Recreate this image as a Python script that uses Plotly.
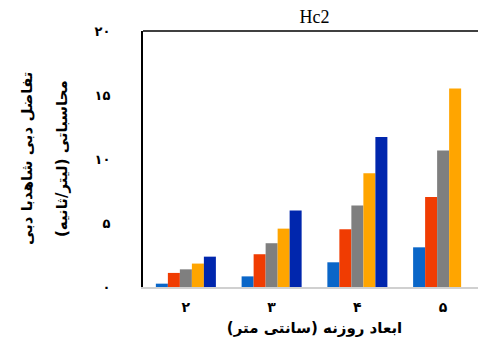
import plotly.graph_objects as go

categories = ["۲", "۳", "۴", "۵"]
series_names = ["s1", "s2", "s3", "s4", "s5"]
s1 = [0.26, 0.83, 1.93, 3.10]
s2 = [1.10, 2.56, 4.51, 7.04]
s3 = [1.38, 3.42, 6.36, 10.67]
s4 = [1.83, 4.56, 8.89, 15.50]
s5 = [2.37, 5.97, 11.71, None]
colors = ["#0A66C8", "#F03C02", "#7F7F7F", "#FFA500", "#0026AD"]
y_tickvals = [0, 5, 10, 15, 20]
y_ticktext = ["۰", "۵", "۱۰", "۱۵", "۲۰"]

# the page body has an 8px margin, so the figure is sized to fill the rest of the window
W, H = 478, 337
L, T, B = 135, 23, 58

fig = go.Figure()
for name, vals, col in zip(series_names, [s1, s2, s3, s4, s5], colors):
    fig.add_trace(go.Bar(x=categories, y=vals, name=name, marker=dict(color=col, line=dict(width=0))))

fig.update_layout(
    width=W, height=H,
    margin=dict(l=L, r=0, t=T, b=B),
    paper_bgcolor="white", plot_bgcolor="white",
    barmode="group", bargap=0.3, bargroupgap=0,
    showlegend=False,
    title=dict(text="Hc2", x=(L + W) / 2 / W, xanchor="center", y=1 - 9 / H, yanchor="middle",
               font=dict(family="Liberation Serif", size=18, color="black")),
    font=dict(family="DejaVu Sans", color="black"),
)
fig.update_xaxes(
    showline=True, linecolor="#D0D0D0", linewidth=2,
    showgrid=False, ticks="", tickfont=dict(family="DejaVu Sans", size=14, color="black", weight="bold"),
    ticklabelstandoff=6,
    title=dict(text="ابعاد روزنه (سانتی متر)", font=dict(family="DejaVu Sans", size=15, color="black", weight="bold"), standoff=9),
)
fig.update_yaxes(
    range=[0, 20], tickvals=y_tickvals, ticktext=y_ticktext,
    showline=True, linecolor="black", linewidth=2,
    showgrid=False, zeroline=False, ticks="",
    tickfont=dict(family="DejaVu Sans", size=13, color="black", weight="bold"),
    ticklabelstandoff=28,
)
fig.add_shape(type="line", xref="paper", yref="paper", x0=0, x1=1, y0=1, y1=1,
              line=dict(color="black", width=1.5))
fig.add_annotation(text="تفاضل دبی شاهدبا دبی", xref="paper", yref="paper",
                   x=-(143 - 27) / 343, y=0.5, xanchor="center", yanchor="middle", textangle=-90,
                   showarrow=False, font=dict(family="DejaVu Sans", size=15, color="black", weight="bold"))
fig.add_annotation(text="محاسباتی (لیتر/ثانیه)", xref="paper", yref="paper",
                   x=-(143 - 62) / 343, y=0.5, xanchor="center", yanchor="middle", textangle=-90,
                   showarrow=False, font=dict(family="DejaVu Sans", size=15, color="black", weight="bold"))

fig.write_html("out.html")
